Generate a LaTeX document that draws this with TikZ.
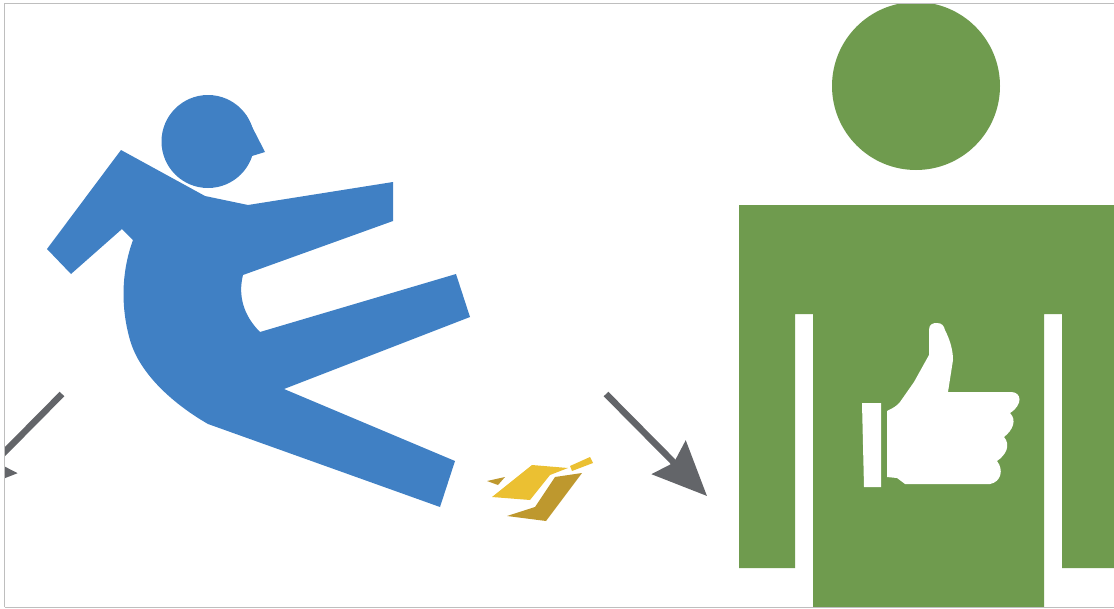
\documentclass[tikz,border=0pt]{standalone}
\usepackage{tikz}
\usetikzlibrary{arrows,arrows.meta}
\definecolor{figur}{RGB}{64,128,196}
\definecolor{gruen}{RGB}{111,155,78}
\definecolor{schale}{RGB}{235,192,50}
\definecolor{schaledunkel}{RGB}{190,152,46}
\definecolor{pfeil}{RGB}{99,101,105}
\definecolor{rahmen}{RGB}{190,190,190}
\tikzset{>={Stealth[length=54pt,width=47pt,inset=7pt]}}
\begin{document}
\begin{tikzpicture}[x=1pt, y=-1pt]
	\useasboundingbox (0,0) rectangle (1114,608);

	\begin{scope}
		\clip (4.5,3) rectangle (1114,607);

		% falling figure
		\fill[figur] (208,141.5) circle (46.5);
		\fill[figur] (246,115) -- (265,152) -- (252,156) -- (225,140) -- cycle;
		\fill[figur] (121,150) -- (205,196) -- (248,205) -- (393,182) -- (393,221) -- (243,275)
			.. controls (238,295) and (243,315) .. (260,332) -- (456,274) -- (470,317) -- (284,389)
			-- (455,461) -- (440,507) -- (208,424)
			.. controls (175,405) and (140,375) .. (130,340)
			.. controls (120,305) and (122,270) .. (133,240)
			-- (122,229) -- (71,274) -- (47,249) -- cycle;

		% peel
		\fill[schale] (492,497) -- (532,465) -- (568,468) -- (550,475) -- (530,500) -- cycle;
		\fill[schale] (570,466) -- (590,457) -- (593,463) -- (572,471) -- cycle;
		\fill[schaledunkel] (487,481) -- (505,477) -- (498,485) -- cycle;
		\fill[schaledunkel] (507,516) -- (535,507) -- (555,477) -- (582,473) -- (546,521) -- cycle;

		% standing figure
		\fill[gruen] (916,86) circle (84);
		\fill[gruen] (739,205) -- (1114,205) -- (1114,568) -- (1062,568) -- (1062,314) -- (1044,314)
			-- (1044,608) -- (813,608) -- (813,314) -- (795,314) -- (795,568) -- (739,568) -- cycle;

		% thumb
		\fill[white] (862,403) -- (881,403) -- (881,487) -- (864,487) -- cycle;
		\fill[white] (887,411) .. controls (893,408) and (897,406) .. (900,402) -- (914,382) -- (929,355) -- (929,330)
			.. controls (929,324) and (933,323) .. (937,323)
			.. controls (942,323) and (944,326) .. (945,330)
			.. controls (950,340) and (953,350) .. (953,360) -- (948,392) -- (1011,392)
			.. controls (1022,392) and (1023,405) .. (1010,413)
			.. controls (1017,420) and (1013,430) .. (1004,437)
			.. controls (1011,445) and (1006,455) .. (997,461)
			.. controls (1004,470) and (1001,482) .. (990,484) -- (905,484) -- (897,478) -- (887,477) -- cycle;

		% arrows
		\coordinate (pfeilLinksA) at (62,394);
		\coordinate (pfeilLinksB) at (-38,495);
		\coordinate (pfeilRechtsA) at (606,394);
		\coordinate (pfeilRechtsB) at (707,496);
		\draw[->, pfeil, line width=6.5pt] (pfeilLinksA) -- (pfeilLinksB);
		\draw[->, pfeil, line width=6.5pt] (pfeilRechtsA) -- (pfeilRechtsB);
	\end{scope}

	\draw[rahmen, line width=1pt] (4.5,607) -- (4.5,3) -- (1114,3);
	\draw[rahmen, line width=1pt] (4.5,607) -- (1114,607);
\end{tikzpicture}
\end{document}
